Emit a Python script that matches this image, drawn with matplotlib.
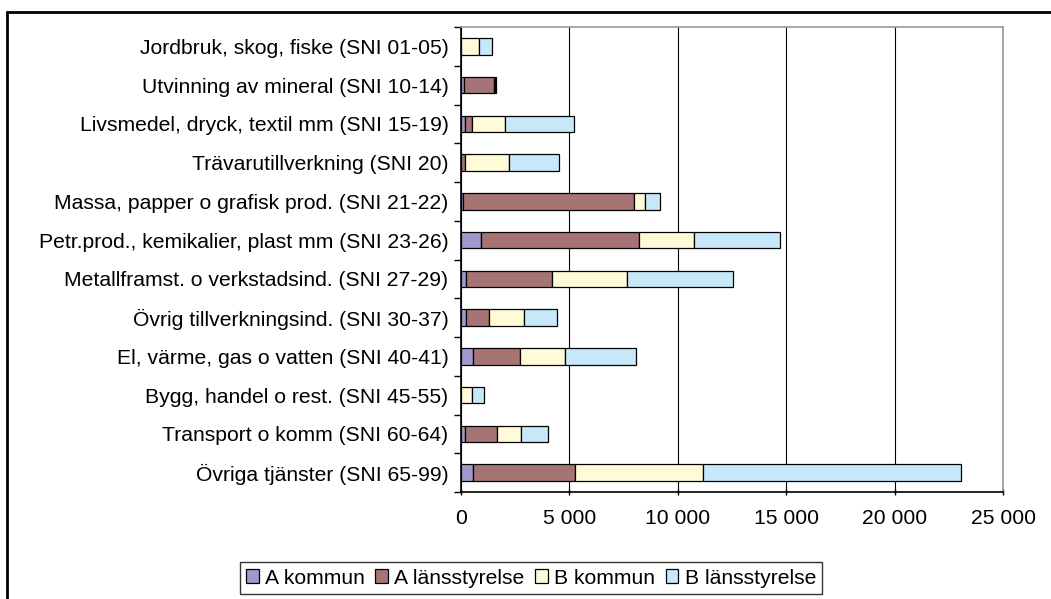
import numpy as np
import matplotlib
matplotlib.use("Agg")
import matplotlib.pyplot as plt
from matplotlib.patches import Rectangle

plt.rcParams['font.family'] = ['Liberation Sans', 'DejaVu Sans']

# data
branscher = [
    "Jordbruk, skog, fiske (SNI 01-05)",
    "Utvinning av mineral (SNI 10-14)",
    "Livsmedel, dryck, textil mm (SNI 15-19)",
    "Trävarutillverkning (SNI 20)",
    "Massa, papper o grafisk prod. (SNI 21-22)",
    "Petr.prod., kemikalier, plast mm (SNI 23-26)",
    "Metallframst. o verkstadsind. (SNI 27-29)",
    "Övrig tillverkningsind. (SNI 30-37)",
    "El, värme, gas o vatten (SNI 40-41)",
    "Bygg, handel o rest. (SNI 45-55)",
    "Transport o komm (SNI 60-64)",
    "Övriga tjänster (SNI 65-99)",
]
a_kommun = [0, 120, 170, 20, 90, 910, 240, 240, 540, 0, 170, 540]
a_lansstyrelse = [0, 1420, 360, 160, 7880, 7280, 3950, 1030, 2170, 0, 1490, 4720]
b_kommun = [830, 40, 1490, 2030, 520, 2560, 3460, 1650, 2110, 530, 1110, 5920]
b_lansstyrelse = [600, 50, 3170, 2320, 680, 3960, 4880, 1510, 3230, 540, 1230, 11860]

series = [
    ("A kommun", a_kommun, "#a09acc"),
    ("A länsstyrelse", a_lansstyrelse, "#a67474"),
    ("B kommun", b_kommun, "#fffad8"),
    ("B länsstyrelse", b_lansstyrelse, "#c6e8f8"),
]
fs = 15.2

fig = plt.figure(figsize=(10.51, 5.99), dpi=100)
ax = fig.add_axes([461/1051, 1-492/599, (1003-461)/1051, (492-27)/599])

y = np.arange(len(branscher))
left = np.zeros(len(branscher))
for name, vals, col in series:
    ax.barh(y, vals, left=left, height=0.42, color=col, edgecolor="black",
            linewidth=0.9, label=name, zorder=3)
    left += np.array(vals)

ax.set_xlim(0, 25000)
ax.set_ylim(len(branscher) - 0.5, -0.5)
ax.set_xticks(range(0, 25001, 5000))
ax.set_xticklabels(["0", "5 000", "10 000", "15 000", "20 000", "25 000"])
ax.grid(axis="x", color="black", linewidth=0.8, zorder=0)

ax.set_yticks(np.arange(-0.5, len(branscher), 1.0))
ax.set_yticklabels([])
ax.set_yticks(y, minor=True)
ax.set_yticklabels(branscher, minor=True)
ax.tick_params(axis="y", which="major", length=5, width=1, direction="out")
ax.tick_params(axis="y", which="minor", length=0, pad=9, labelsize=fs)
ax.tick_params(axis="x", length=5, width=1, direction="inout", pad=10, labelsize=fs)

ax.spines["left"].set_color("black")
ax.spines["bottom"].set_color("black")
ax.spines["top"].set_color("#999999")
ax.spines["right"].set_color("#999999")
for s in ax.spines.values():
    s.set_linewidth(1.2)

leg = fig.legend(loc="center", bbox_to_anchor=(531/1051, 1-578/599), ncol=4,
                 fontsize=fs, frameon=True, fancybox=False, edgecolor="black",
                 handlelength=0.6, handleheight=0.6, handletextpad=0.3,
                 columnspacing=0.5, borderpad=0.3, borderaxespad=0)
leg.get_frame().set_linewidth(1.0)

# outer chart border
fig.patches.append(Rectangle((7/1051, -0.05), 1.1, 1.05 - 12/599,
                             transform=fig.transFigure, fill=False,
                             edgecolor="black", linewidth=2))

fig.savefig("out.png", dpi=100)
